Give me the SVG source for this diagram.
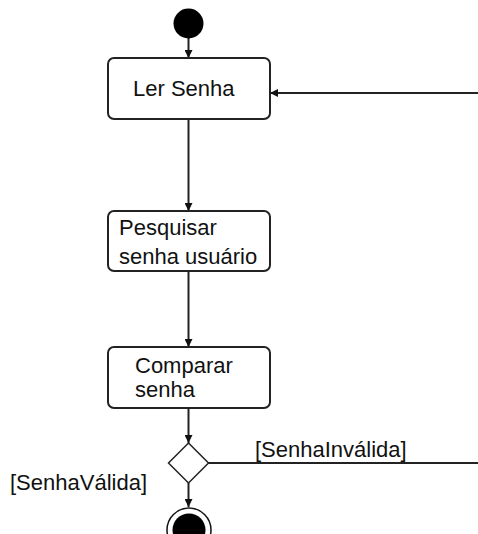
<svg xmlns="http://www.w3.org/2000/svg" width="478" height="534" viewBox="0 0 478 534">
<style>
.box{fill:#fff;stroke:#222;stroke-width:2}
.t{font-family:"Liberation Sans",Arial,sans-serif;font-size:22px;fill:#111}
.c{stroke:#222;stroke-width:2;fill:none}
</style>
<defs>
<marker id="ah" viewBox="0 0 8 8" refX="8" refY="4" markerWidth="8" markerHeight="8" markerUnits="userSpaceOnUse" orient="auto">
<path d="M0,0 L8,4 L0,8 Z" fill="#111"/>
</marker>
</defs>
<rect width="478" height="534" fill="#fff"/>
<g id="connectors">
<line class="c" x1="188.5" y1="38" x2="188.5" y2="58" marker-end="url(#ah)"/>
<line class="c" x1="188.5" y1="119" x2="188.5" y2="211" marker-end="url(#ah)"/>
<line class="c" x1="188.5" y1="271" x2="188.5" y2="347" marker-end="url(#ah)"/>
<line class="c" x1="188.5" y1="408" x2="188.5" y2="443" marker-end="url(#ah)"/>
<line class="c" x1="188.5" y1="483" x2="188.5" y2="507" marker-end="url(#ah)"/>
<line class="c" x1="208" y1="463" x2="478" y2="463"/>
<line class="c" x1="478" y1="93" x2="270" y2="93" marker-end="url(#ah)"/>
<text class="t" x="255" y="457">[SenhaInválida]</text>
<text class="t" x="10" y="490">[SenhaVálida]</text>
</g>
<g id="start">
<circle cx="188.5" cy="23.5" r="15" fill="#000"/>
</g>
<g id="ler-senha">
<rect class="box" x="108" y="58" width="162" height="61" rx="6"/>
<text class="t" x="133" y="96">Ler Senha</text>
</g>
<g id="pesquisar">
<rect class="box" x="108" y="211" width="162" height="60" rx="6"/>
<text class="t" x="119" y="235">Pesquisar</text>
<text class="t" x="119" y="264">senha usuário</text>
</g>
<g id="comparar">
<rect class="box" x="108" y="347" width="162" height="61" rx="6"/>
<text class="t" x="135" y="373">Comparar</text>
<text class="t" x="135" y="397">senha</text>
</g>
<g id="decisao">
<polygon points="188.5,443 208.5,463 188.5,483 168.5,463" fill="#fff" stroke="#222" stroke-width="1.5"/>
</g>
<g id="fim">
<circle cx="189" cy="530" r="22" fill="#fff" stroke="#111" stroke-width="1.5"/>
<circle cx="189" cy="530" r="16.5" fill="#000"/>
</g>
</svg>
